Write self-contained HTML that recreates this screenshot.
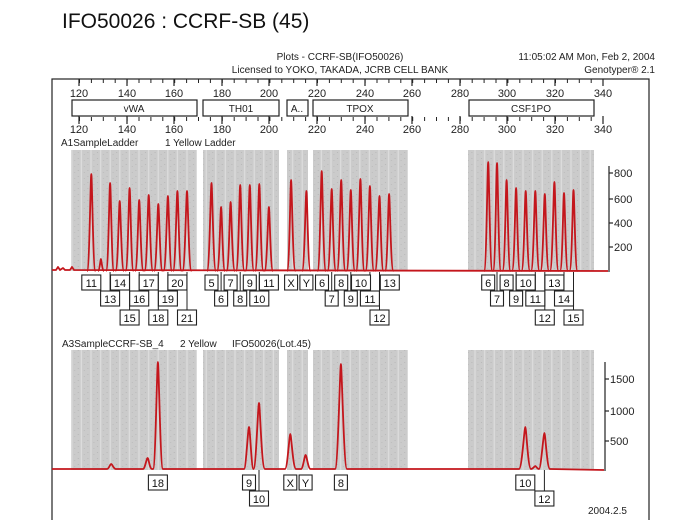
<!DOCTYPE html>
<html><head><meta charset="utf-8"><style>
html,body{margin:0;padding:0;background:#fff;}
svg{display:block;font-family:"Liberation Sans",sans-serif;}
</style></head><body>
<svg width="700" height="520" viewBox="0 0 700 520" xmlns="http://www.w3.org/2000/svg">
<defs>
<pattern id="g" patternUnits="userSpaceOnUse" width="9.6" height="6" x="0">
<rect width="9.6" height="6" fill="#cbcbcb"/><rect x="4" width="1.2" height="6" fill="#dedede"/><rect x="1" y="2" width="1" height="1" fill="#b8b8b8"/><rect x="7" y="4" width="1" height="1" fill="#bcbcbc"/>
</pattern>
<pattern id="mt" patternUnits="userSpaceOnUse" width="11.9" height="200" x="79" y="0"><line x1="0.5" y1="0" x2="0.5" y2="200" stroke="#222" stroke-width="1"/></pattern>
</defs>
<text x="62" y="28" font-size="21" fill="#111">IFO50026 : CCRF-SB (45)</text>
<text x="340" y="60" font-size="10" text-anchor="middle" fill="#222">Plots - CCRF-SB(IFO50026)</text>
<text x="340" y="73" font-size="10" text-anchor="middle" fill="#222">Licensed to YOKO, TAKADA, JCRB CELL BANK</text>
<text x="655" y="60" font-size="10" text-anchor="end" fill="#222">11:05:02 AM  Mon, Feb 2, 2004</text>
<text x="655" y="73" font-size="10" text-anchor="end" fill="#222">Genotyper® 2.1</text>
<rect x="52" y="79" width="597" height="450" fill="none" stroke="#222" stroke-width="1.2"/>
<rect x="79" y="79" width="524" height="4" fill="url(#mt)"/>
<rect x="79" y="117" width="524" height="4" fill="url(#mt)"/>
<g stroke="#222" stroke-width="1.2">
<line x1="79" y1="79" x2="79" y2="86"/><line x1="127" y1="79" x2="127" y2="86"/><line x1="174" y1="79" x2="174" y2="86"/><line x1="222" y1="79" x2="222" y2="86"/><line x1="269" y1="79" x2="269" y2="86"/><line x1="317" y1="79" x2="317" y2="86"/><line x1="365" y1="79" x2="365" y2="86"/><line x1="412" y1="79" x2="412" y2="86"/><line x1="460" y1="79" x2="460" y2="86"/><line x1="507" y1="79" x2="507" y2="86"/><line x1="555" y1="79" x2="555" y2="86"/><line x1="603" y1="79" x2="603" y2="86"/>
<line x1="79" y1="116" x2="79" y2="124"/><line x1="127" y1="116" x2="127" y2="124"/><line x1="174" y1="116" x2="174" y2="124"/><line x1="222" y1="116" x2="222" y2="124"/><line x1="269" y1="116" x2="269" y2="124"/><line x1="317" y1="116" x2="317" y2="124"/><line x1="365" y1="116" x2="365" y2="124"/><line x1="412" y1="116" x2="412" y2="124"/><line x1="460" y1="116" x2="460" y2="124"/><line x1="507" y1="116" x2="507" y2="124"/><line x1="555" y1="116" x2="555" y2="124"/><line x1="603" y1="116" x2="603" y2="124"/>
</g>
<g font-size="11" fill="#222" text-anchor="middle">
<text x="79" y="97">120</text><text x="127" y="97">140</text><text x="174" y="97">160</text><text x="222" y="97">180</text><text x="269" y="97">200</text><text x="317" y="97">220</text><text x="365" y="97">240</text><text x="412" y="97">260</text><text x="460" y="97">280</text><text x="507" y="97">300</text><text x="555" y="97">320</text><text x="603" y="97">340</text>
<text x="79" y="133">120</text><text x="127" y="133">140</text><text x="174" y="133">160</text><text x="222" y="133">180</text><text x="269" y="133">200</text><text x="317" y="133">220</text><text x="365" y="133">240</text><text x="412" y="133">260</text><text x="460" y="133">280</text><text x="507" y="133">300</text><text x="555" y="133">320</text><text x="603" y="133">340</text>
</g>
<g fill="#fff" stroke="#222" stroke-width="1.2">
<rect x="72" y="100" width="125" height="16"/><rect x="203" y="100" width="76" height="16"/><rect x="287" y="100" width="21" height="16"/><rect x="313" y="100" width="95" height="16"/><rect x="469" y="100" width="125" height="16"/>
</g>
<g font-size="10" fill="#222" text-anchor="middle">
<text x="134" y="112">vWA</text><text x="241" y="112">TH01</text><text x="297" y="112">A..</text><text x="360" y="112">TPOX</text><text x="531" y="112">CSF1PO</text>
</g>
<text x="61" y="146" font-size="10" fill="#222">A1SampleLadder</text>
<text x="165" y="146" font-size="10" fill="#222">1 Yellow  Ladder</text>
<text x="62" y="347" font-size="10" fill="#222">A3SampleCCRF-SB_4</text>
<text x="180" y="347" font-size="10" fill="#222">2 Yellow</text>
<text x="232" y="347" font-size="10" fill="#222">IFO50026(Lot.45)</text>
<g fill="url(#g)">
<rect x="71" y="150" width="126" height="121"/><rect x="203" y="150" width="76" height="121"/><rect x="287" y="150" width="21" height="121"/><rect x="313" y="150" width="95" height="121"/><rect x="468" y="150" width="126" height="121"/>
<rect x="71" y="350" width="126" height="120"/><rect x="203" y="350" width="76" height="120"/><rect x="287" y="350" width="21" height="120"/><rect x="313" y="350" width="95" height="120"/><rect x="468" y="350" width="126" height="120"/>
</g>
<g stroke="#222" stroke-width="1.2">
<line x1="609" y1="166" x2="609" y2="272"/><line x1="609" y1="173" x2="613" y2="173"/><line x1="609" y1="199" x2="613" y2="199"/><line x1="609" y1="223" x2="613" y2="223"/><line x1="609" y1="247" x2="613" y2="247"/>
<line x1="605" y1="362" x2="605" y2="471"/><line x1="605" y1="379" x2="609" y2="379"/><line x1="605" y1="411" x2="609" y2="411"/><line x1="605" y1="441" x2="609" y2="441"/>
</g>
<g font-size="11" fill="#222">
<text x="614" y="177">800</text><text x="614" y="203">600</text><text x="614" y="227">400</text><text x="614" y="251">200</text>
<text x="610" y="383">1500</text><text x="610" y="415">1000</text><text x="610" y="445">500</text>
</g>
<g fill="none" stroke="#c4161c" stroke-width="1.8" stroke-linejoin="round">
<path d="M52,270 L56,270 L58,267 L60,270 L63,268 L65,270 L70,270 L72,267 L74,270 L608,271"/>
</g>
<g fill="none" stroke="#c4161c" stroke-width="1.8">
<path d="M87,271 C89.5,271 90.5,174 91.3,174 C92.1,174 93,271 95.5,271
M98,271 C99.5,271 100.5,259 100.9,259 C101.3,259 102.3,271 104,271
M106,271 C108.5,271 109.3,183 110.1,183 C110.9,183 111.7,271 114,271
M115.5,271 C118,271 118.9,201 119.7,201 C120.5,201 121.4,271 124,271
M125.5,271 C128,271 128.8,188 129.6,188 C130.4,188 131.2,271 133.5,271
M135,271 C137.5,271 138.4,200 139.2,200 C140,200 140.9,271 143.5,271
M144.5,271 C147,271 147.9,195 148.7,195 C149.5,195 150.4,271 153,271
M154,271 C156.5,271 157.5,204 158.3,204 C159.1,204 160.1,271 162.5,271
M163.5,271 C166,271 167.1,196 167.9,196 C168.7,196 169.7,271 172,271
M173,271 C175.5,271 176.6,191 177.4,191 C178.2,191 179.2,271 181.5,271
M182.5,271 C185,271 186.2,191 187,191 C187.8,191 188.8,271 191.5,271
M207,271 C209.5,271 210.7,183 211.5,183 C212.3,183 213.3,271 216,271
M217,271 C219.5,271 220.3,207 221.1,207 C221.9,207 222.7,271 225,271
M226.5,271 C229,271 229.8,202 230.6,202 C231.4,202 232.2,271 235,271
M236,271 C238.5,271 239.4,185 240.2,185 C241,185 241.8,271 244.5,271
M245.5,271 C248,271 249,185 249.8,185 C250.6,185 251.4,271 254,271
M255,271 C257.5,271 258.5,184 259.3,184 C260.1,184 260.9,271 263.5,271
M264.5,271 C267,271 268.1,207 268.9,207 C269.7,207 270.5,271 273,271
M287,271 C289.5,271 290.3,180 291.1,180 C291.9,180 292.7,271 295.5,271
M302,271 C304.5,271 305.6,191 306.4,191 C307.2,191 308,271 310.5,271
M317.5,271 C320,271 320.9,171 321.7,171 C322.5,171 323.3,271 326,271
M327.5,271 C330,271 330.9,189 331.7,189 C332.5,189 333.3,271 336,271
M337,271 C339.5,271 340.4,180 341.2,180 C342,180 342.8,271 345.5,271
M346.5,271 C349,271 350,190 350.8,190 C351.6,190 352.4,271 355,271
M356,271 C358.5,271 359.6,179 360.4,179 C361.2,179 362,271 364.5,271
M365.5,271 C368,271 369.1,186 369.9,186 C370.7,186 371.5,271 374,271
M375,271 C377.5,271 378.7,196 379.5,196 C380.3,196 381.1,271 383.5,271
M385,271 C387.5,271 388.3,194 389.1,194 C389.9,194 390.7,271 393.5,271
M484,271 C486.5,271 487.4,162 488.2,162 C489,162 489.8,271 492.5,271
M493,271 C495.5,271 496.2,163 497,163 C497.8,163 498.6,271 501,271
M502.5,271 C505,271 505.8,180 506.6,180 C507.4,180 508.2,271 510.5,271
M512,271 C514.5,271 515.3,188 516.1,188 C516.9,188 517.7,271 520,271
M521.5,271 C524,271 524.9,191 525.7,191 C526.5,191 527.3,271 530,271
M531,271 C533.5,271 534.5,191 535.3,191 C536.1,191 536.9,271 539.5,271
M540.5,271 C543,271 544,194 544.8,194 C545.6,194 546.4,271 549,271
M550,271 C552.5,271 553.6,182 554.4,182 C555.2,182 556,271 558.5,271
M560,271 C562.5,271 563.2,193 564,193 C564.8,193 565.6,271 568,271
M569.5,271 C572,271 572.7,190 573.5,190 C574.3,190 575.1,271 577.5,271"/>
</g>
<g fill="none" stroke="#c4161c" stroke-width="1.8" stroke-linejoin="round">
<path d="M52,469 L107,469 C109,469 110,464 111.2,464 C112.4,464 113.4,469 116,469 L143,469 C145,469 146.5,458 147.6,458 C148.7,458 149.5,469 152,469 L153,469 C155.5,469 157,362 157.9,362 C158.8,362 160.3,469 163,469 L244,469 C246,469 248,427 249,427 C250,427 251.5,469 253.5,469 C256,469 258,403 259,403 C260,403 261.5,469 265,469 L285,469 C287.5,469 289.3,434 290.3,434 C291.3,434 293,469 296,469 L301,469 C303,469 304.6,455 305.6,455 C306.6,455 308.2,469 310.5,469 L335,469 C338,469 340,364 340.9,364 C341.8,364 343.8,469 347,469 L519,469 C522,469 524.3,427 525.3,427 C526.3,427 528,469 531,469 C533,469 534.5,466 535.3,466 C536.1,466 537,469 539,469 C541,469 543.4,433 544.4,433 C545.4,433 547,469 550,469 L604,470"/>
</g>
<g stroke="#222" stroke-width="1" fill="none">
<path d="M110.1,272V291 M139.2,272V291 M167.9,272V291 M221.1,272V291 M240.2,272V291 M259.3,272V291 M331.7,272V291 M350.8,272V291 M369.9,272V291 M497,272V291 M516.1,272V291 M535.3,272V291 M564,272V291 M129.6,272V310 M158.3,272V310 M187,272V310 M379.5,272V310 M544.8,272V310 M573.5,272V310 M259,470V491 M544.4,470V491"/>
</g>
<g fill="#fff" stroke="#222" stroke-width="1.1">
<rect x="81.8" y="275" width="19" height="15"/><rect x="110.5" y="275" width="19" height="15"/><rect x="139.2" y="275" width="19" height="15"/><rect x="167.9" y="275" width="19" height="15"/><rect x="205" y="275" width="13" height="15"/><rect x="224.1" y="275" width="13" height="15"/><rect x="243.3" y="275" width="13" height="15"/><rect x="259.4" y="275" width="19" height="15"/><rect x="284.6" y="275" width="13" height="15"/><rect x="299.9" y="275" width="13" height="15"/><rect x="315.5" y="275" width="13" height="15"/><rect x="334.7" y="275" width="13" height="15"/><rect x="351.5" y="275" width="19" height="15"/><rect x="380.3" y="275" width="19" height="15"/><rect x="481.7" y="275" width="13" height="15"/><rect x="500.1" y="275" width="13" height="15"/><rect x="516.2" y="275" width="19" height="15"/><rect x="544.9" y="275" width="19" height="15"/>
<rect x="100.6" y="291" width="19" height="15"/><rect x="129.7" y="291" width="19" height="15"/><rect x="158.4" y="291" width="19" height="15"/><rect x="214.6" y="291" width="13" height="15"/><rect x="233.7" y="291" width="13" height="15"/><rect x="249.8" y="291" width="19" height="15"/><rect x="325.2" y="291" width="13" height="15"/><rect x="344.3" y="291" width="13" height="15"/><rect x="360.4" y="291" width="19" height="15"/><rect x="490.5" y="291" width="13" height="15"/><rect x="509.6" y="291" width="13" height="15"/><rect x="525.8" y="291" width="19" height="15"/><rect x="554.5" y="291" width="19" height="15"/>
<rect x="120.1" y="310" width="19" height="15"/><rect x="148.8" y="310" width="19" height="15"/><rect x="177.5" y="310" width="19" height="15"/><rect x="370" y="310" width="19" height="15"/><rect x="535.3" y="310" width="19" height="15"/><rect x="564" y="310" width="19" height="15"/>
<rect x="148.4" y="475" width="19" height="15"/><rect x="242.5" y="475" width="13" height="15"/><rect x="283.8" y="475" width="13" height="15"/><rect x="299.1" y="475" width="13" height="15"/><rect x="334.4" y="475" width="13" height="15"/><rect x="515.8" y="475" width="19" height="15"/><rect x="249.5" y="491" width="19" height="15"/><rect x="534.9" y="491" width="19" height="15"/>
</g>
<g font-size="11" fill="#111" text-anchor="middle">
<text x="91.3" y="287">11</text><text x="120" y="287">14</text><text x="148.7" y="287">17</text><text x="177.4" y="287">20</text><text x="211.5" y="287">5</text><text x="230.6" y="287">7</text><text x="249.8" y="287">9</text><text x="268.9" y="287">11</text><text x="291.1" y="287">X</text><text x="306.4" y="287">Y</text><text x="322" y="287">6</text><text x="341.2" y="287">8</text><text x="361" y="287">10</text><text x="389.8" y="287">13</text><text x="488.2" y="287">6</text><text x="506.6" y="287">8</text><text x="525.7" y="287">10</text><text x="554.4" y="287">13</text>
<text x="110.1" y="303">13</text><text x="139.2" y="303">16</text><text x="167.9" y="303">19</text><text x="221.1" y="303">6</text><text x="240.2" y="303">8</text><text x="259.3" y="303">10</text><text x="331.7" y="303">7</text><text x="350.8" y="303">9</text><text x="369.9" y="303">11</text><text x="497" y="303">7</text><text x="516.1" y="303">9</text><text x="535.3" y="303">11</text><text x="564" y="303">14</text>
<text x="129.6" y="322">15</text><text x="158.3" y="322">18</text><text x="187" y="322">21</text><text x="379.5" y="322">12</text><text x="544.8" y="322">12</text><text x="573.5" y="322">15</text>
<text x="157.9" y="487">18</text><text x="249" y="487">9</text><text x="290.3" y="487">X</text><text x="305.6" y="487">Y</text><text x="340.9" y="487">8</text><text x="525.3" y="487">10</text><text x="259" y="503">10</text><text x="544.4" y="503">12</text>
</g>
<text x="588" y="514" font-size="10" fill="#222">2004.2.5</text>
</svg>
</body></html>
